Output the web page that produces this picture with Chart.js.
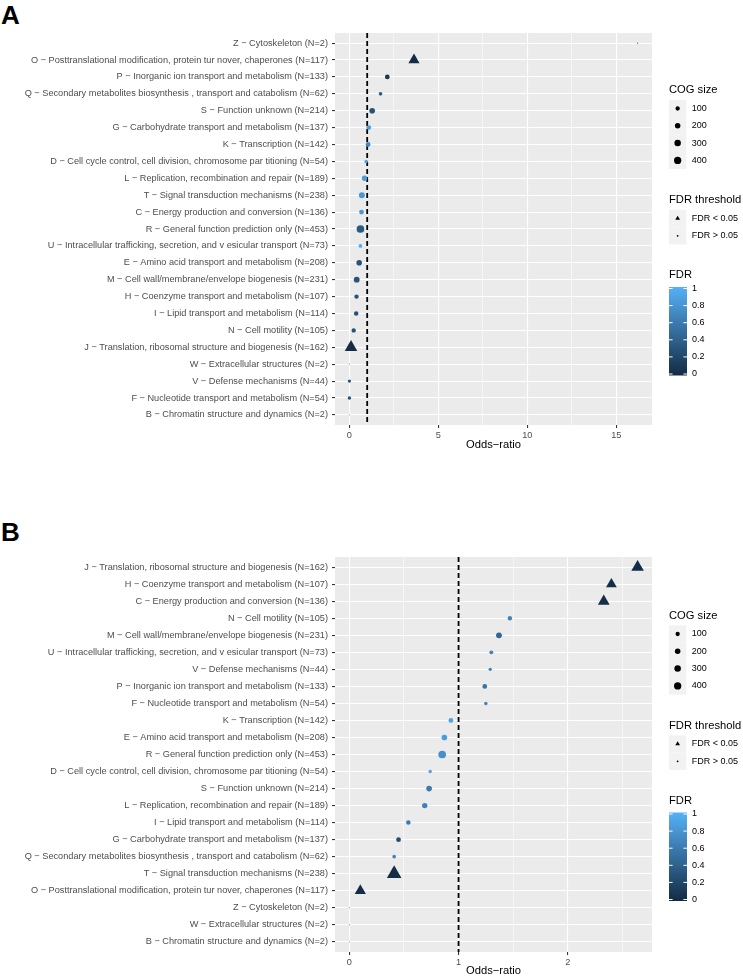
<!DOCTYPE html>
<html>
<head>
<meta charset="utf-8">
<script src="https://cdn.jsdelivr.net/npm/chart.js@4.4.1/dist/chart.umd.min.js"></script>
<style>
  body { margin: 0; background: #fff; }
  #wrap { position: relative; width: 743px; height: 978px; font-family: 'Liberation Sans', Arial, sans-serif; }
  .tag { position: absolute; left: 1px; font-weight: bold; font-size: 26px; line-height: 26px; }
  canvas { position: absolute; left: 0; }
</style>
</head>
<body>
<div id="wrap">
  <div class="tag" style="top: 2px">A</div>
  <canvas id="graficoA" width="743" height="452" style="top: 0"></canvas>
  <div class="tag" style="top: 519px">B</div>
  <canvas id="graficoB" width="743" height="489" style="top: 489px"></canvas>
</div>
<script>
// COG categories (code, name, number of genes)
const cogCodes = ['Z', 'O', 'P', 'Q', 'S', 'G', 'K', 'D', 'L', 'T', 'C', 'R', 'U', 'E', 'M', 'H', 'I', 'N', 'J', 'W', 'V', 'F', 'B'];
const cogNames = [
    'Cytoskeleton',
    'Posttranslational modification, protein tur nover, chaperones',
    'Inorganic ion transport and metabolism',
    'Secondary metabolites biosynthesis , transport and catabolism',
    'Function unknown',
    'Carbohydrate transport and metabolism',
    'Transcription',
    'Cell cycle control, cell division, chromosome par titioning',
    'Replication, recombination and repair',
    'Signal transduction mechanisms',
    'Energy production and conversion',
    'General function prediction only',
    'Intracellular trafficking, secretion, and v esicular transport',
    'Amino acid transport and metabolism',
    'Cell wall/membrane/envelope biogenesis',
    'Coenzyme transport and metabolism',
    'Lipid transport and metabolism',
    'Cell motility',
    'Translation, ribosomal structure and biogenesis',
    'Extracellular structures',
    'Defense mechanisms',
    'Nucleotide transport and metabolism',
    'Chromatin structure and dynamics'
];
const cogN = [2, 117, 133, 62, 214, 137, 142, 54, 189, 238, 136, 453, 73, 208, 231, 107, 114, 105, 162, 2, 44, 54, 2];

// panel A, top to bottom
const orderA = ['Z', 'O', 'P', 'Q', 'S', 'G', 'K', 'D', 'L', 'T', 'C', 'R', 'U', 'E', 'M', 'H', 'I', 'N', 'J', 'W', 'V', 'F', 'B'];
const oddsA = [16.2, 3.63, 2.13, 1.75, 1.28, 1.09, 1.05, 0.94, 0.85, 0.70, 0.68, 0.62, 0.62, 0.55, 0.41, 0.40, 0.38, 0.24, 0.09, 0, 0, 0, 0];
const fdrA = [0.45, 0.01, 0.1, 0.35, 0.3, 0.85, 0.7, 0.9, 0.85, 0.8, 0.8, 0.35, 0.95, 0.3, 0.3, 0.3, 0.3, 0.3, 0.01, 1, 0.3, 0.3, 1];

// panel B, top to bottom
const orderB = ['J', 'H', 'C', 'N', 'M', 'U', 'V', 'P', 'F', 'K', 'E', 'R', 'D', 'S', 'L', 'I', 'G', 'Q', 'T', 'O', 'Z', 'W', 'B'];
const oddsB = [2.64, 2.40, 2.33, 1.47, 1.37, 1.30, 1.29, 1.24, 1.25, 0.93, 0.87, 0.85, 0.74, 0.73, 0.69, 0.54, 0.45, 0.41, 0.41, 0.10, 0, 0, 0];
const fdrB = [0.01, 0.02, 0.02, 0.65, 0.45, 0.65, 0.65, 0.55, 0.65, 0.9, 0.85, 0.75, 0.9, 0.6, 0.65, 0.6, 0.25, 0.65, 0.02, 0.02, 1, 1, 1];

const sizeBreaks = [100, 200, 300, 400];
const fdrBreaks = [1, 0.8, 0.6, 0.4, 0.2, 0];
const fdrCut = 0.05;

const FONT = "'Liberation Sans', Arial, sans-serif";
const lowCol = [0x13, 0x2B, 0x43];
const highCol = [0x56, 0xB1, 0xF7];
const nMin = Math.min(...cogN);
const nMax = Math.max(...cogN);

function fdrColour(f) {
    const c = lowCol.map((l, i) => Math.round(l + (highCol[i] - l) * f));
    return 'rgb(' + c.join(',') + ')';
}
function dotRadius(n) {
    return 0.64 * (1 + 5 * Math.sqrt((n - nMin) / (nMax - nMin)));
}
function triangle(ctx, x, y, r) {
    ctx.beginPath();
    for (let k = 0; k < 3; k++) {
        const a = k * 2 * Math.PI / 3;
        ctx.lineTo(x + Math.sin(a) * r, y - Math.cos(a) * r);
    }
    ctx.closePath();
    ctx.fill();
}

const panelBackground = {
    id: 'panelBackground',
    beforeDraw(chart) {
        const a = chart.chartArea;
        chart.ctx.save();
        chart.ctx.fillStyle = '#EBEBEB';
        chart.ctx.fillRect(a.left, a.top, a.right - a.left, a.bottom - a.top);
        chart.ctx.restore();
    }
};

const oneLine = {
    id: 'oneLine',
    beforeDatasetsDraw(chart) {
        const a = chart.chartArea;
        const x = chart.scales.x.getPixelForValue(1);
        const ctx = chart.ctx;
        ctx.save();
        ctx.strokeStyle = '#000';
        ctx.lineWidth = 1.8;
        ctx.setLineDash([5, 3]);
        ctx.beginPath();
        ctx.moveTo(x, a.top);
        ctx.lineTo(x, a.bottom);
        ctx.stroke();
        ctx.restore();
    }
};

const ggLegend = {
    id: 'ggLegend',
    afterDraw(chart) {
        const ctx = chart.ctx;
        const a = chart.chartArea;
        const cy = (a.top + a.bottom) / 2;
        const x0 = a.right + 17;
        const key = 17.3;
        ctx.save();
        ctx.textBaseline = 'middle';
        ctx.textAlign = 'left';

        // COG size
        ctx.fillStyle = '#000';
        ctx.font = '11.2px ' + FONT;
        ctx.fillText('COG size', x0, cy - 139);
        sizeBreaks.forEach((n, i) => {
            const y = cy - 120.5 + key * i;
            ctx.fillStyle = '#F2F2F2';
            ctx.fillRect(x0, y - key / 2, key, key);
            ctx.fillStyle = '#000';
            ctx.beginPath();
            ctx.arc(x0 + key / 2, y, dotRadius(n), 0, 2 * Math.PI);
            ctx.fill();
            ctx.font = '9px ' + FONT;
            ctx.fillText(String(n), x0 + key + 5.5, y);
        });

        // FDR threshold
        ctx.font = '11.2px ' + FONT;
        ctx.fillText('FDR threshold', x0, cy - 29);
        ['FDR < 0.05', 'FDR > 0.05'].forEach((t, i) => {
            const y = cy - 10.5 + key * i;
            ctx.fillStyle = '#F2F2F2';
            ctx.fillRect(x0, y - key / 2, key, key);
            ctx.fillStyle = '#000';
            if (i === 0) {
                triangle(ctx, x0 + key / 2, y, 2.7);
            } else {
                ctx.beginPath();
                ctx.arc(x0 + key / 2, y, 0.9, 0, 2 * Math.PI);
                ctx.fill();
            }
            ctx.font = '9px ' + FONT;
            ctx.fillText(t, x0 + key + 5.5, y);
        });

        // FDR colourbar
        ctx.font = '11.2px ' + FONT;
        ctx.fillText('FDR', x0, cy + 46);
        const bt = cy + 58, bb = cy + 146.5, bw = 18;
        const grad = ctx.createLinearGradient(0, bt, 0, bb);
        for (let s = 0; s <= 10; s++) grad.addColorStop(s / 10, fdrColour(1 - s / 10));
        ctx.fillStyle = grad;
        ctx.fillRect(x0, bt, bw, bb - bt);
        ctx.strokeStyle = '#fff';
        ctx.lineWidth = 1;
        ctx.font = '9px ' + FONT;
        fdrBreaks.forEach(v => {
            const y = bb - 1.5 - (bb - bt - 3) * v;
            ctx.beginPath();
            ctx.moveTo(x0, y); ctx.lineTo(x0 + 3.6, y);
            ctx.moveTo(x0 + bw - 3.6, y); ctx.lineTo(x0 + bw, y);
            ctx.stroke();
            ctx.fillStyle = '#000';
            ctx.fillText(String(v), x0 + bw + 5, y);
        });
        ctx.restore();
    }
};

function createGrafico(canvasId, order, odds, fdr, topPad, axisHeight, major) {
    const labels = order.map(c => {
        const i = cogCodes.indexOf(c);
        return c + ' \u2212 ' + cogNames[i] + ' (N=' + cogN[i] + ')';
    });
    const sizes = order.map(c => cogN[cogCodes.indexOf(c)]);
    const sig = fdr.map(f => f < fdrCut);
    const lo = Math.min(...odds);
    const hi = Math.max(...odds);
    const pad = (hi - lo) * 0.05;
    const half = major / 2;
    const isMajor = v => Math.abs(v / major - Math.round(v / major)) < 1e-6;
    const radii = sizes.map((n, i) => sig[i] ? dotRadius(n) * 2.85 : dotRadius(n));

    const config = {
        type: 'scatter',
        data: {
            datasets: [{
                data: odds.map((x, i) => ({ x: x, y: i })),
                pointStyle: sig.map(s => s ? 'triangle' : 'circle'),
                pointRadius: radii,
                pointHoverRadius: radii,
                pointBackgroundColor: fdr.map(fdrColour),
                pointBorderWidth: 0
            }]
        },
        options: {
            responsive: false,
            animation: false,
            events: [],
            layout: { padding: { top: topPad, right: 91, left: 0, bottom: 0 } },
            plugins: { legend: { display: false }, tooltip: { enabled: false } },
            scales: {
                x: {
                    type: 'linear',
                    min: lo - pad,
                    max: hi + pad,
                    afterBuildTicks: ax => {
                        const t = [];
                        for (let v = Math.ceil(ax.min / half) * half; v <= ax.max; v += half) t.push({ value: +v.toFixed(4) });
                        ax.ticks = t;
                    },
                    afterFit: ax => { ax.height = axisHeight; },
                    border: { display: false },
                    grid: {
                        color: '#fff',
                        lineWidth: c => (c.tick && isMajor(c.tick.value)) ? 1.1 : 0.55,
                        tickColor: c => (c.tick && isMajor(c.tick.value)) ? '#333' : 'rgba(0,0,0,0)',
                        tickLength: 3
                    },
                    ticks: {
                        autoSkip: false,
                        maxRotation: 0,
                        padding: 2,
                        color: '#4D4D4D',
                        font: { family: FONT, size: 9.2 },
                        callback: v => isMajor(v) ? String(Math.round(v)) : ''
                    },
                    title: {
                        display: true,
                        text: 'Odds\u2212ratio',
                        color: '#000',
                        padding: 0,
                        font: { family: FONT, size: 11.2 }
                    }
                },
                y: {
                    type: 'linear',
                    reverse: true,
                    min: -0.6,
                    max: labels.length - 0.4,
                    afterBuildTicks: ax => { ax.ticks = labels.map((l, i) => ({ value: i })); },
                    afterFit: ax => { ax.width = 335; },
                    border: { display: false },
                    grid: { color: '#fff', lineWidth: 1.1, tickColor: '#333', tickLength: 3 },
                    ticks: {
                        autoSkip: false,
                        padding: 4,
                        color: '#4D4D4D',
                        font: { family: FONT, size: 9.2 },
                        callback: v => labels[v]
                    }
                }
            }
        },
        plugins: [panelBackground, oneLine, ggLegend]
    };
    return new Chart(document.getElementById(canvasId), config);
}

const graficoA = createGrafico('graficoA', orderA, oddsA, fdrA, 33, 27, 5);
const graficoB = createGrafico('graficoB', orderB, oddsB, fdrB, 68, 26, 1);
</script>
</body>
</html>
